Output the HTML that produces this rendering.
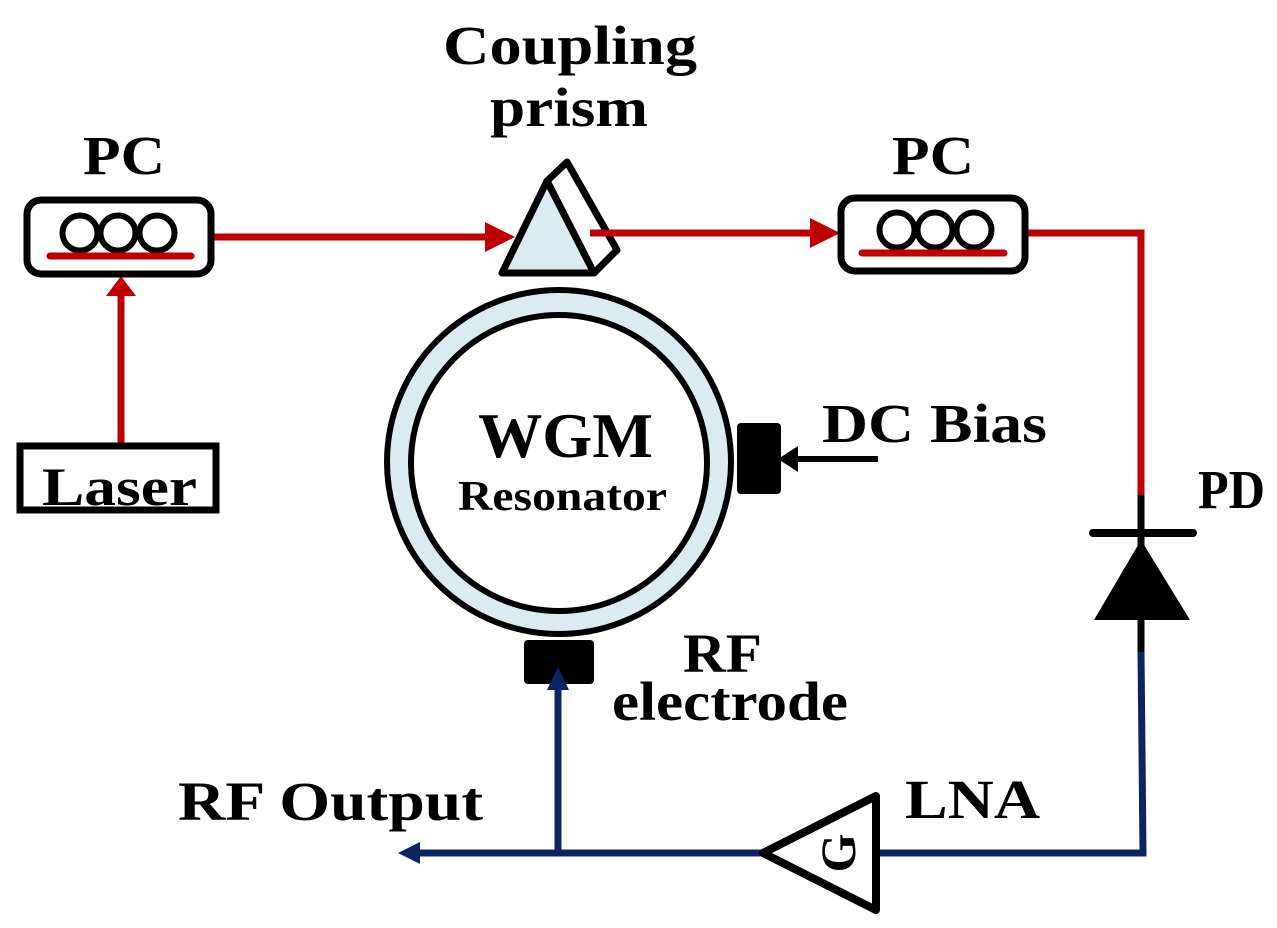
<!DOCTYPE html>
<html><head><style>
html,body{margin:0;padding:0;background:#fff;}
svg{display:block;}
text{font-family:"Liberation Serif",serif;font-weight:bold;fill:#000;}
</style></head><body>
<svg width="1277" height="928" viewBox="0 0 1277 928" xmlns="http://www.w3.org/2000/svg">
<!-- Text -->
<text x="83" y="174" font-size="55" textLength="82" lengthAdjust="spacingAndGlyphs">PC</text>
<text x="892" y="174" font-size="55" textLength="82" lengthAdjust="spacingAndGlyphs">PC</text>
<text x="443" y="64" font-size="55" textLength="254" lengthAdjust="spacingAndGlyphs">Coupling</text>
<text x="490" y="126" font-size="55" textLength="158" lengthAdjust="spacingAndGlyphs">prism</text>
<text x="822" y="442" font-size="55" textLength="225" lengthAdjust="spacingAndGlyphs">DC Bias</text>
<text x="1198" y="508" font-size="55" textLength="67" lengthAdjust="spacingAndGlyphs">PD</text>
<text x="683" y="672" font-size="55" textLength="79" lengthAdjust="spacingAndGlyphs">RF</text>
<text x="612" y="720" font-size="55" textLength="236" lengthAdjust="spacingAndGlyphs">electrode</text>
<text x="178" y="820" font-size="55" textLength="305" lengthAdjust="spacingAndGlyphs">RF Output</text>
<text x="905" y="818" font-size="55" textLength="135" lengthAdjust="spacingAndGlyphs">LNA</text>

<!-- red lines -->
<line x1="121" y1="443" x2="121" y2="290" stroke="#c00000" stroke-width="7"/>
<path d="M106,296 L121,276 L136,296 z" fill="#c00000"/>
<line x1="214" y1="237" x2="500" y2="237" stroke="#c00000" stroke-width="7"/>
<path d="M485,222 L515,237 L485,252 z" fill="#c00000"/>
<line x1="590" y1="233" x2="822" y2="233" stroke="#c00000" stroke-width="7"/>
<path d="M810,218 L840,233 L810,248 z" fill="#c00000"/>
<polyline points="1027,233 1141,233 1141,495" fill="none" stroke="#c00000" stroke-width="7"/>

<!-- Laser -->
<rect x="20" y="446" width="196" height="64" fill="#fff" stroke="#000" stroke-width="7"/>
<text x="42" y="505" font-size="54" textLength="155" lengthAdjust="spacingAndGlyphs">Laser</text>

<!-- PC left -->
<rect x="27" y="200" width="184" height="74" rx="14" fill="#fff" stroke="#000" stroke-width="7"/>
<circle cx="80" cy="233" r="17.5" fill="none" stroke="#000" stroke-width="6"/>
<circle cx="118" cy="233" r="17.5" fill="none" stroke="#000" stroke-width="6"/>
<circle cx="157" cy="233" r="17.5" fill="none" stroke="#000" stroke-width="6"/>
<line x1="50" y1="256" x2="191" y2="256" stroke="#c00000" stroke-width="7" stroke-linecap="round"/>
<!-- PC right -->
<rect x="841" y="198" width="184" height="73" rx="14" fill="#fff" stroke="#000" stroke-width="7"/>
<circle cx="897" cy="230" r="17.5" fill="none" stroke="#000" stroke-width="6"/>
<circle cx="935" cy="230" r="17.5" fill="none" stroke="#000" stroke-width="6"/>
<circle cx="974" cy="230" r="17.5" fill="none" stroke="#000" stroke-width="6"/>
<line x1="862" y1="253" x2="1004" y2="253" stroke="#c00000" stroke-width="7" stroke-linecap="round"/>

<!-- prism -->
<path d="M547,181 L567,162 L617,250 L594,273 z" fill="#fff" stroke="#000" stroke-width="7" stroke-linejoin="round"/>
<path d="M502,273 L547,181 L594,273 z" fill="#daecf2" stroke="#000" stroke-width="7" stroke-linejoin="round"/>
<line x1="590" y1="233" x2="660" y2="233" stroke="#c00000" stroke-width="7"/>

<!-- WGM -->
<circle cx="559" cy="462" r="172" fill="#daecf2" stroke="#000" stroke-width="6"/>
<circle cx="559" cy="463" r="148" fill="#fff" stroke="#000" stroke-width="6"/>
<text x="478" y="457" font-size="64" textLength="175" lengthAdjust="spacingAndGlyphs">WGM</text>
<text x="458" y="510" font-size="42" textLength="209" lengthAdjust="spacingAndGlyphs">Resonator</text>

<!-- DC bias -->
<rect x="737" y="423" width="44" height="71" rx="4" fill="#000"/>
<line x1="878" y1="459" x2="790" y2="459" stroke="#000" stroke-width="6"/>
<path d="M798,446 L778,459 L798,472 z" fill="#000"/>
<!-- RF electrode -->
<rect x="524" y="640" width="70" height="44" rx="4" fill="#000"/>

<!-- PD -->
<line x1="1141" y1="495" x2="1141" y2="652" stroke="#000" stroke-width="7"/>
<line x1="1093" y1="533" x2="1193" y2="533" stroke="#000" stroke-width="8" stroke-linecap="round"/>
<path d="M1141,540 L1094,620 L1190,620 z" fill="#000"/>

<!-- blue lines -->
<polyline points="1141,652 1143,853 877,853" fill="none" stroke="#0c2461" stroke-width="7"/>
<line x1="762" y1="853" x2="415" y2="853" stroke="#0c2461" stroke-width="7"/>
<path d="M420,842 L398,853 L420,864 z" fill="#0c2461"/>
<line x1="558" y1="853" x2="558" y2="685" stroke="#0c2461" stroke-width="7"/>
<path d="M547,690 L558,667 L569,690 z" fill="#0c2461"/>

<!-- LNA -->
<path d="M763,853 L876,796 L876,910 z" fill="#fff" stroke="#000" stroke-width="8" stroke-linejoin="round"/>
<text x="0" y="0" font-size="50" text-anchor="middle" transform="translate(838,853) rotate(-90) translate(0,17)">G</text>
</svg>
</body></html>
